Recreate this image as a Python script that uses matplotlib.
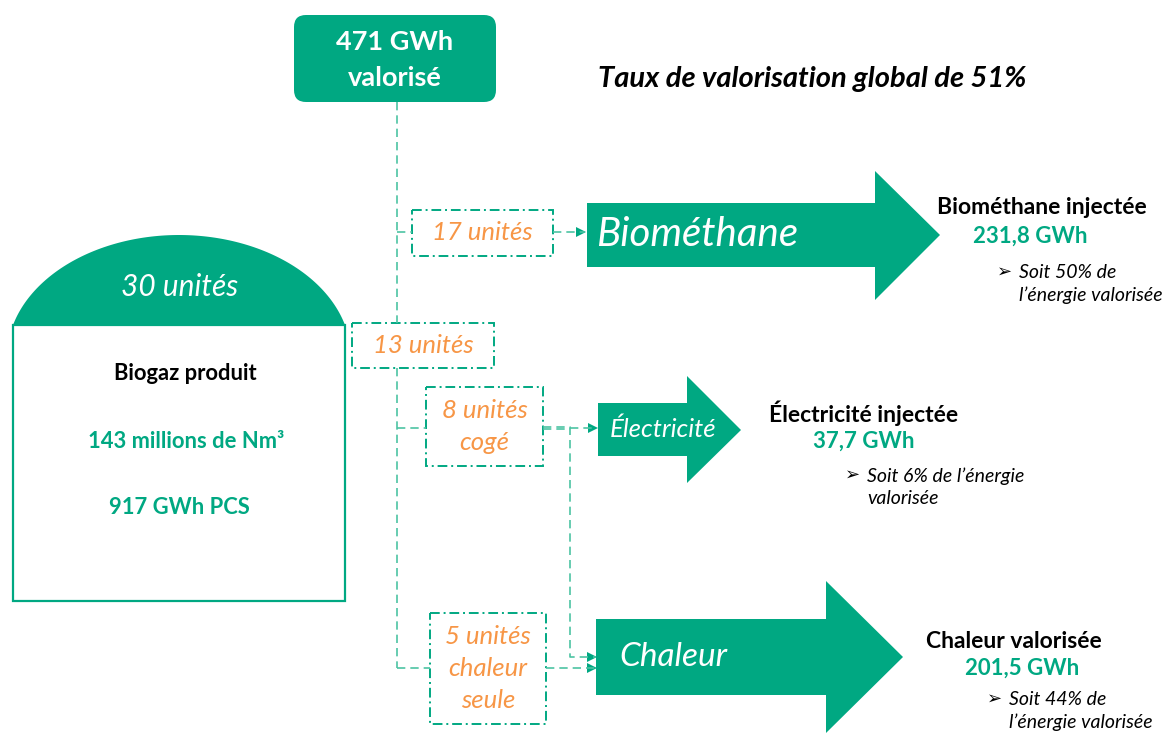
import matplotlib.pyplot as plt
import numpy as np
from matplotlib.patches import Rectangle, FancyBboxPatch, Polygon

plt.rcParams['font.family'] = ['Lato', 'DejaVu Sans']

# data
total_valorise = "471 GWh\nvalorisé"
titre = "Taux de valorisation global de 51%"
nb_unites = 30
biogaz_volume = "143 millions de Nm³"
biogaz_energie = "917 GWh PCS"
filieres = ["Biométhane", "Électricité", "Chaleur"]
unites_filiere = ["17 unités", "13 unités", "8 unités\ncogé", "5 unités\nchaleur\nseule"]
sorties_titre = ["Biométhane injectée", "Électricité injectée", "Chaleur valorisée"]
sorties_gwh = [231.8, 37.7, 201.5]
sorties_part = [50, 6, 44]

GREEN = '#00A882'
LINE = '#4DC3A3'
ORANGE = '#F79646'

fig = plt.figure(figsize=(11.7, 7.34), dpi=100)
ax = fig.add_axes([0, 0, 1, 1])
ax.set_xlim(0, 1170)
ax.set_ylim(734, 0)
ax.axis('off')


def fr(v):
    return f"{v:.1f}".replace('.', ',') + " GWh"


def dashbox(x0, y0, x1, y1, txt):
    ax.add_patch(Rectangle((x0, y0), x1 - x0, y1 - y0, fill=False, ec=GREEN,
                           lw=1.4, ls=(0, (5, 2, 1, 2))))
    ax.text((x0 + x1) / 2, (y0 + y1) / 2, txt, color=ORANGE, style='italic',
            fontsize=18.5, ha='center', va='center', linespacing=1.45)


def dline(xs, ys):
    ax.plot(xs, ys, color=LINE, lw=1.2, ls=(0, (5, 3)))


def head(x, y):
    ax.add_patch(Polygon([[x - 10, y - 5], [x, y], [x - 10, y + 5]], color=GREEN, lw=0))


def big_arrow(x0, x1, x2, yb0, yb1, yh0, yh1, ytip):
    ax.add_patch(Polygon([[x0, yb0], [x1, yb0], [x1, yh0], [x2, ytip],
                          [x1, yh1], [x1, yb1], [x0, yb1]], color=GREEN, lw=0))


# top box
ax.add_patch(FancyBboxPatch((294, 15), 202, 87, boxstyle="round,pad=0,rounding_size=12",
                            fc=GREEN, ec='none'))
ax.text(395, 60, total_valorise, color='white', fontweight='bold', fontsize=19.5,
        ha='center', va='center', linespacing=1.55)
ax.text(812, 79, titre, fontweight='bold', style='italic', fontsize=21,
        ha='center', va='center')

# dome building
t0 = np.arccos(166 / 172)
t = np.linspace(t0, np.pi - t0, 120)
dome = np.column_stack([179 + 172 * np.cos(t), 357 - 122 * np.sin(t)])
ax.add_patch(Polygon(dome, color=GREEN, lw=0))
ax.add_patch(Rectangle((13, 325), 332, 276, fill=False, ec=GREEN, lw=1.6))
ax.text(180, 287, f"{nb_unites} unités", color='white', style='italic', fontsize=21.5,
        ha='center', va='center')
ax.text(185, 373, "Biogaz produit", fontweight='bold', fontsize=15.8, ha='center', va='center')
ax.text(186, 441, biogaz_volume, color=GREEN, fontweight='bold', fontsize=15.8,
        ha='center', va='center')
ax.text(179, 508, biogaz_energie, color=GREEN, fontweight='bold', fontsize=15.8,
        ha='center', va='center')

# connectors
dline([397, 397], [102, 323])
dline([397, 397], [368, 668])
dline([397, 412], [232, 232])
dline([553, 585], [232, 232])
head(586, 232)
dline([397, 426], [428, 428])
dline([543, 570, 570, 596], [427, 427, 657, 657])
dline([543, 570], [429, 429])
dline([570, 596], [428, 428])
head(598, 428)
head(597, 657)
dline([397, 430], [668, 668])
dline([546, 596], [668, 668])
head(597, 668)

# unit boxes
dashbox(412, 210, 553, 256, unites_filiere[0])
dashbox(352, 323, 494, 368, unites_filiere[1])
dashbox(426, 387, 543, 466, unites_filiere[2])
dashbox(430, 613, 546, 724, unites_filiere[3])

# big arrows
big_arrow(587, 875, 940, 203, 267, 171, 300, 235)
ax.text(596, 234, filieres[0], color='white', style='italic', fontsize=29, va='center')
big_arrow(598, 687, 741, 403, 456, 376, 483, 430)
ax.text(610, 429, filieres[1], color='white', style='italic', fontsize=18.5, va='center')
big_arrow(596, 826, 903, 619, 695, 581, 733, 657)
ax.text(619, 657, filieres[2], color='white', style='italic', fontsize=24, va='center')

# output labels
lab = [(1042, 208, 1030, 236, 997, 272), (864, 413, 864, 441, 845, 475), (1014, 641, 1022, 668, 987, 699)]
soit = ["Soit {}% de\nl’énergie valorisée", "Soit {}% de l’énergie\nvalorisée", "Soit {}% de\nl’énergie valorisée"]
for i, (tx, ty, vx, vy, ax_, ay) in enumerate(lab):
    ax.text(tx, ty, sorties_titre[i], fontweight='bold', fontsize=16.5, ha='center', va='center')
    ax.text(vx, vy, fr(sorties_gwh[i]), color=GREEN, fontweight='bold', fontsize=16,
            ha='center', va='center')
    ax.text(ax_, ay, "➢", fontsize=13, ha='left', va='center', family='DejaVu Sans')
    ax.text(ax_ + 22, ay + 12, soit[i].format(sorties_part[i]), style='italic', fontsize=14,
            ha='left', va='center', linespacing=1.4)

fig.savefig('out.png', dpi=100)
